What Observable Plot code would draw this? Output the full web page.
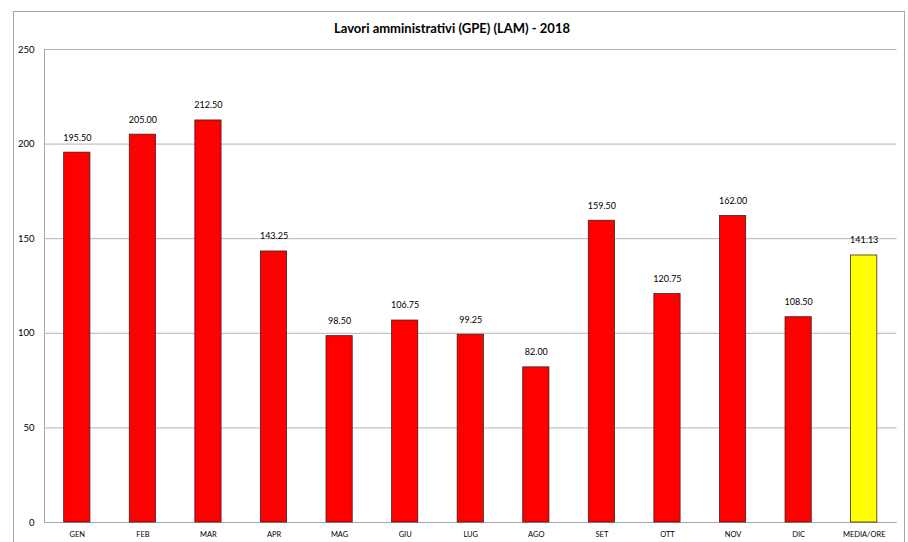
<!DOCTYPE html>
<html>
<head>
<meta charset="utf-8">
<script src="https://cdn.jsdelivr.net/npm/d3@7"></script>
<script src="https://cdn.jsdelivr.net/npm/@observablehq/plot@0.6"></script>
<style>
  html, body { margin: 0; padding: 0; background: #fff; }
  #wrap { position: relative; width: 908px; height: 542px; overflow: hidden; font-family: Lato, "Open Sans", sans-serif; }
  #border { position: absolute; left: 13px; top: 11px; width: 892px; height: 560px; border: 1px solid #a6a6a6; box-sizing: border-box; }
  #title { position: absolute; left: 0; width: 904px; top: 20px; text-align: center; font-weight: bold; font-size: 13px; color: #000; }
  #chart { position: absolute; left: 0; top: 0; }
  #chart svg { background: transparent; }
</style>
</head>
<body>
<div id="wrap">
  <div id="border"></div>
  <div id="title">Lavori amministrativi (GPE) (LAM) - 2018</div>
  <div id="chart"></div>
</div>
<script>
const categories = ["GEN","FEB","MAR","APR","MAG","GIU","LUG","AGO","SET","OTT","NOV","DIC","MEDIA/ORE"];
const values = [195.50, 205.00, 212.50, 143.25, 98.50, 106.75, 99.25, 82.00, 159.50, 120.75, 162.00, 108.50, 141.13];
const yTicks = [0, 50, 100, 150, 200, 250];
const highlight = "MEDIA/ORE";

const data = categories.map((c, i) => ({category: c, value: values[i]}));

const plot = Plot.plot({
  width: 908,
  height: 542,
  marginLeft: 44,
  marginRight: 11.5,
  marginTop: 49,
  marginBottom: 20,
  style: {background: "transparent", fontFamily: "Lato, 'Open Sans', sans-serif", color: "#000"},
  x: {type: "band", domain: categories, paddingInner: 0.6, paddingOuter: 0.3, round: false, label: null},
  y: {domain: [0, 250], ticks: yTicks, label: null},
  marks: [
    Plot.gridY(yTicks, {stroke: "#b3b3b3", strokeOpacity: 1}),
    Plot.frame({anchor: "left", stroke: "#a6a6a6"}),
    Plot.ruleY([0], {stroke: "#a6a6a6"}),
    Plot.barY(data, {
      x: "category",
      y: "value",
      fill: d => d.category === highlight ? "#ffff00" : "#ff0000",
      stroke: "#3a1a1a",
      strokeWidth: 0.75
    }),
    Plot.text(data, {
      x: "category",
      y: "value",
      text: d => d.value.toFixed(2),
      dy: -15,
      fontSize: 9,
      fill: "#000"
    }),
    Plot.axisY(yTicks, {tickSize: 0, tickPadding: 10, fontSize: 9.5, fill: "#000"}),
    Plot.axisX({tickSize: 0, tickPadding: 9, fontSize: 7.5, fill: "#000"})
  ]
});
document.getElementById("chart").appendChild(plot);
</script>
</body>
</html>
